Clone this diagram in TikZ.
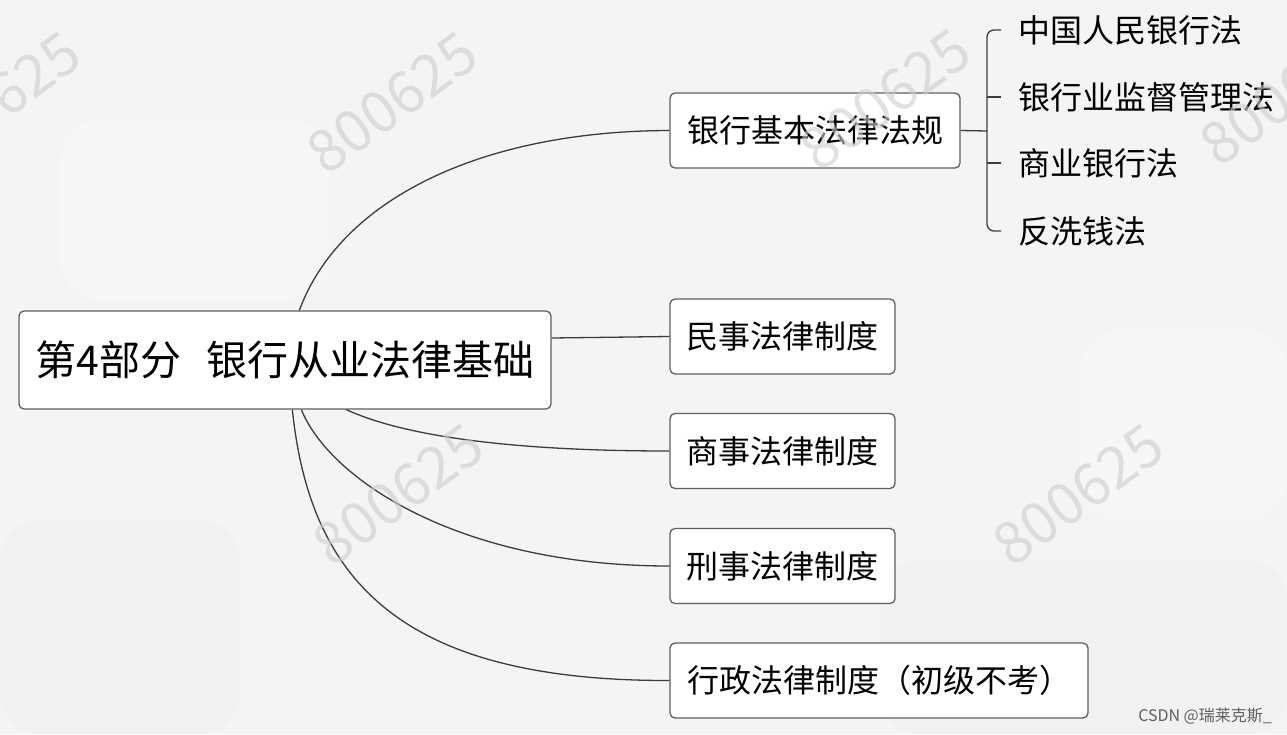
\documentclass[tikz,border=0pt]{standalone}
\usepackage{fontspec}
\setmainfont{Noto Sans CJK SC}
\definecolor{bg}{RGB}{244,244,245}
\definecolor{frame}{RGB}{95,95,95}
\definecolor{wire}{RGB}{60,60,60}
\definecolor{wm}{RGB}{205,205,205}
\definecolor{credit}{RGB}{95,95,95}
\tikzset{
  rootbox/.style={draw=frame, line width=1.3pt, rounded corners=5pt, fill=white,
    minimum width=532pt, minimum height=98pt, inner sep=0pt,
    font=\fontsize{41}{47}\selectfont},
  topicbox/.style={draw=frame, line width=1.3pt, rounded corners=5pt, fill=white,
    minimum height=75pt, inner sep=0pt, font=\fontsize{32}{38}\selectfont},
  leaf/.style={anchor=west, inner sep=0pt, font=\fontsize{32}{38}\selectfont},
  wirestyle/.style={draw=wire, line width=1.3pt},
  watermark/.style={text=wm, rotate=36, font=\fontsize{58}{60}\selectfont, inner sep=0pt}
}
\begin{document}
\begin{tikzpicture}[x=1pt, y=-1pt]
\useasboundingbox (0,0) rectangle (1287,734);
\fill[bg] (0,0) rectangle (1287,734);
% faint background shapes
\fill[white, opacity=0.25, rounded corners=40pt] (60,120) rectangle (330,300);
\fill[white, opacity=0.2, rounded corners=40pt] (1080,330) rectangle (1287,520);
\fill[black, opacity=0.012, rounded corners=40pt] (0,520) rectangle (240,734);
\fill[black, opacity=0.012, rounded corners=40pt] (880,560) rectangle (1287,734);

% nodes
\node[rootbox] (root) at (285,360) {第4部分\hspace{0.6em}银行从业法律基础};
\node[topicbox, minimum width=290pt] (b1) at (815,130.5) {银行基本法律法规};
\node[topicbox, minimum width=225pt] (b2) at (782.5,336.5) {民事法律制度};
\node[topicbox, minimum width=225pt] (b3) at (782.5,451) {商事法律制度};
\node[topicbox, minimum width=225pt] (b4) at (782.5,566) {刑事法律制度};
\node[topicbox, minimum width=418pt] (b5) at (879,680.5) {行政法律制度（初级不考）};

\node[leaf] (l1) at (1018,30) {中国人民银行法};
\node[leaf] (l2) at (1018,97) {银行业监督管理法};
\node[leaf] (l3) at (1018,163) {商业银行法};
\node[leaf] (l4) at (1018,231) {反洗钱法};

% connectors from root
\draw[wirestyle] ([xshift=281pt]root.north west) .. controls (340,200) and (480,131) .. (b1.west);
\draw[wirestyle] ([yshift=22pt]root.east) -- (b2.west);
\draw[wirestyle] ([xshift=328pt]root.south west) .. controls (395,432) and (490,451) .. (b3.west);
\draw[wirestyle] ([xshift=283pt]root.south west) .. controls (330,480) and (460,566) .. (b4.west);
\draw[wirestyle] ([xshift=274pt]root.south west) .. controls (310,580) and (400,681) .. (b5.west);

% bracket to leaves
\coordinate (bx) at (987,131);
\draw[wirestyle] (b1.east) -- (bx);
\draw[wirestyle, rounded corners=7pt] ([xshift=-17pt]l1.west) -| (bx) |- ([xshift=-17pt]l4.west);
\draw[wirestyle] (bx |- l2.west) -- ([xshift=-17pt]l2.west);
\draw[wirestyle] (bx |- l3.west) -- ([xshift=-17pt]l3.west);

% watermarks
\begin{scope}[opacity=0.6]
\node[watermark] (w1) at (-5,103) {800625};
\node[watermark] (w2) at (392,103) {800625};
\node[watermark] (w3) at (885,100) {800625};
\node[watermark] (w4) at (1285,95) {800625};
\node[watermark] (w5) at (398,495) {800625};
\node[watermark] (w6) at (1078,495) {800625};
\end{scope}

\node[anchor=east, text=credit, inner sep=0pt, font=\fontsize{16}{18}\selectfont] (credit) at (1272,716) {CSDN @瑞莱克斯\_};
\end{tikzpicture}
\end{document}
